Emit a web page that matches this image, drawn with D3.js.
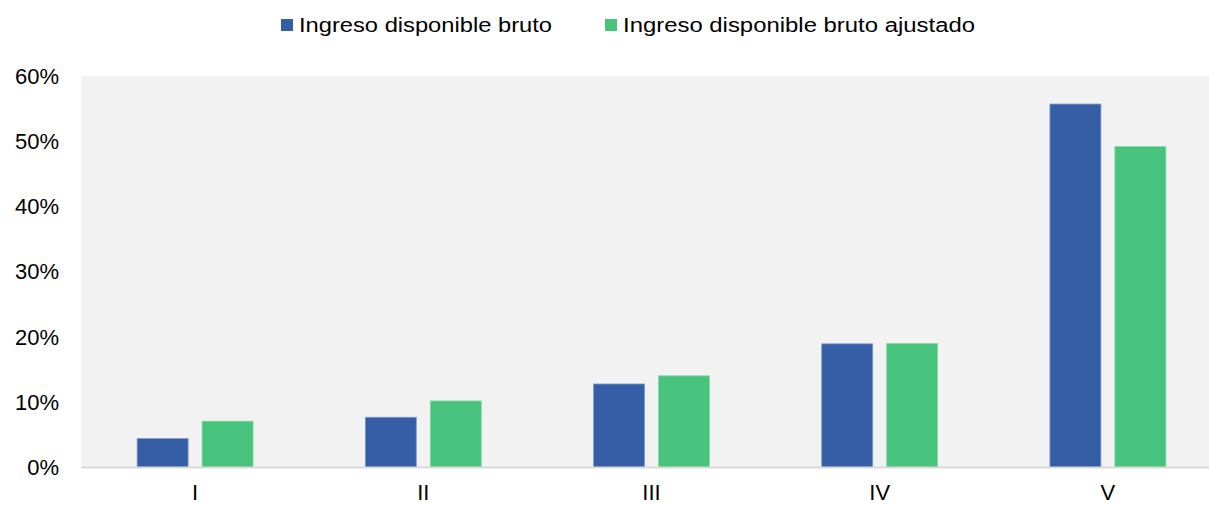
<!DOCTYPE html>
<head>
  <meta charset="utf-8">
  <script src="https://d3js.org/d3.v7.min.js"></script>
<style>
body { margin:0; overflow:hidden; background:#fff; }
text { font-family: Arial, "Liberation Sans", sans-serif; fill:#000; }
</style>
</head>

<body>
<script>
// categories (quintiles) and series values, in percent
var categories = ["I", "II", "III", "IV", "V"];
var seriesNames = ["Ingreso disponible bruto", "Ingreso disponible bruto ajustado"];
var bruto = [4.45, 7.7, 12.8, 18.95, 55.7];
var ajustado = [7.1, 10.2, 14.05, 19.0, 49.2];
var yTicks = [0, 10, 20, 30, 40, 50, 60];

var colors = ["#355ea6", "#47c37d"];
var strokes = ["#7f9bd0", "#86dba9"];

var W = 1209, H = 505;
var plot = {left: 81, right: 1222, top: 76, bottom: 467.5};

var data = categories.map((c, i) => ({cat: c, values: [bruto[i], ajustado[i]]}));

var svg = d3.select("body").append("svg")
    .attr("width", W)
    .attr("height", H);

// scales
var x0 = d3.scaleBand()
    .domain(categories)
    .range([plot.left, plot.right])
    .paddingInner(0.492)
    .paddingOuter(0.246);

var x1 = d3.scaleBand()
    .domain([0, 1])
    .range([0, x0.bandwidth()])
    .paddingInner(0.215);

var y = d3.scaleLinear().domain([0, 60]).range([plot.bottom, plot.top]);

// plot background
svg.append("rect")
    .attr("x", plot.left)
    .attr("y", plot.top)
    .attr("width", plot.right - plot.left)
    .attr("height", plot.bottom - plot.top)
    .attr("fill", "#f2f2f2");

// bars
var groups = svg.selectAll(".grp")
    .data(data)
  .enter().append("g")
    .attr("class", "grp")
    .attr("transform", d => "translate(" + x0(d.cat) + ",0)");

groups.selectAll("rect")
    .data(d => d.values.map((v, k) => ({k: k, v: v})))
  .enter().append("rect")
    .attr("x", d => x1(d.k))
    .attr("y", d => y(d.v))
    .attr("width", x1.bandwidth())
    .attr("height", d => y(0) - y(d.v))
    .attr("fill", d => colors[d.k])
    .attr("stroke", d => strokes[d.k])
    .attr("stroke-width", 0.8);

// zero line
svg.append("line")
    .attr("x1", plot.left)
    .attr("x2", plot.right)
    .attr("y1", y(0))
    .attr("y2", y(0))
    .attr("stroke", "#d9d9d9")
    .attr("stroke-width", 2);

// y axis labels
var yAxis = svg.append("g")
    .attr("transform", "translate(" + (plot.left - 22) + ",0)")
    .call(d3.axisLeft(y).tickValues(yTicks).tickSize(0).tickPadding(0).tickFormat(d => d + "%"));
yAxis.select(".domain").remove();
yAxis.selectAll("text")
    .attr("font-size", 22)
    .attr("font-family", "Arial, 'Liberation Sans', sans-serif")
    .attr("fill", "#000");

// x axis labels
var xAxis = svg.append("g")
    .attr("transform", "translate(0," + (plot.bottom + 17) + ")")
    .call(d3.axisBottom(x0).tickSize(0).tickPadding(0));
xAxis.select(".domain").remove();
xAxis.selectAll("text")
    .attr("font-size", 22)
    .attr("font-family", "Arial, 'Liberation Sans', sans-serif")
    .attr("fill", "#000");

// legend
var legendPos = [{sq: 281, tx: 299, len: 253}, {sq: 605, tx: 623, len: 352}];
var legend = svg.selectAll(".leg")
    .data(seriesNames)
  .enter().append("g")
    .attr("class", "leg");

legend.append("rect")
    .attr("x", (d, i) => legendPos[i].sq)
    .attr("y", 19)
    .attr("width", 12)
    .attr("height", 12)
    .attr("fill", (d, i) => colors[i]);

legend.append("text")
    .attr("x", (d, i) => legendPos[i].tx)
    .attr("y", 32)
    .attr("font-size", 20)
    .attr("textLength", (d, i) => legendPos[i].len)
    .attr("lengthAdjust", "spacingAndGlyphs")
    .text(d => d);
</script>
</body>
